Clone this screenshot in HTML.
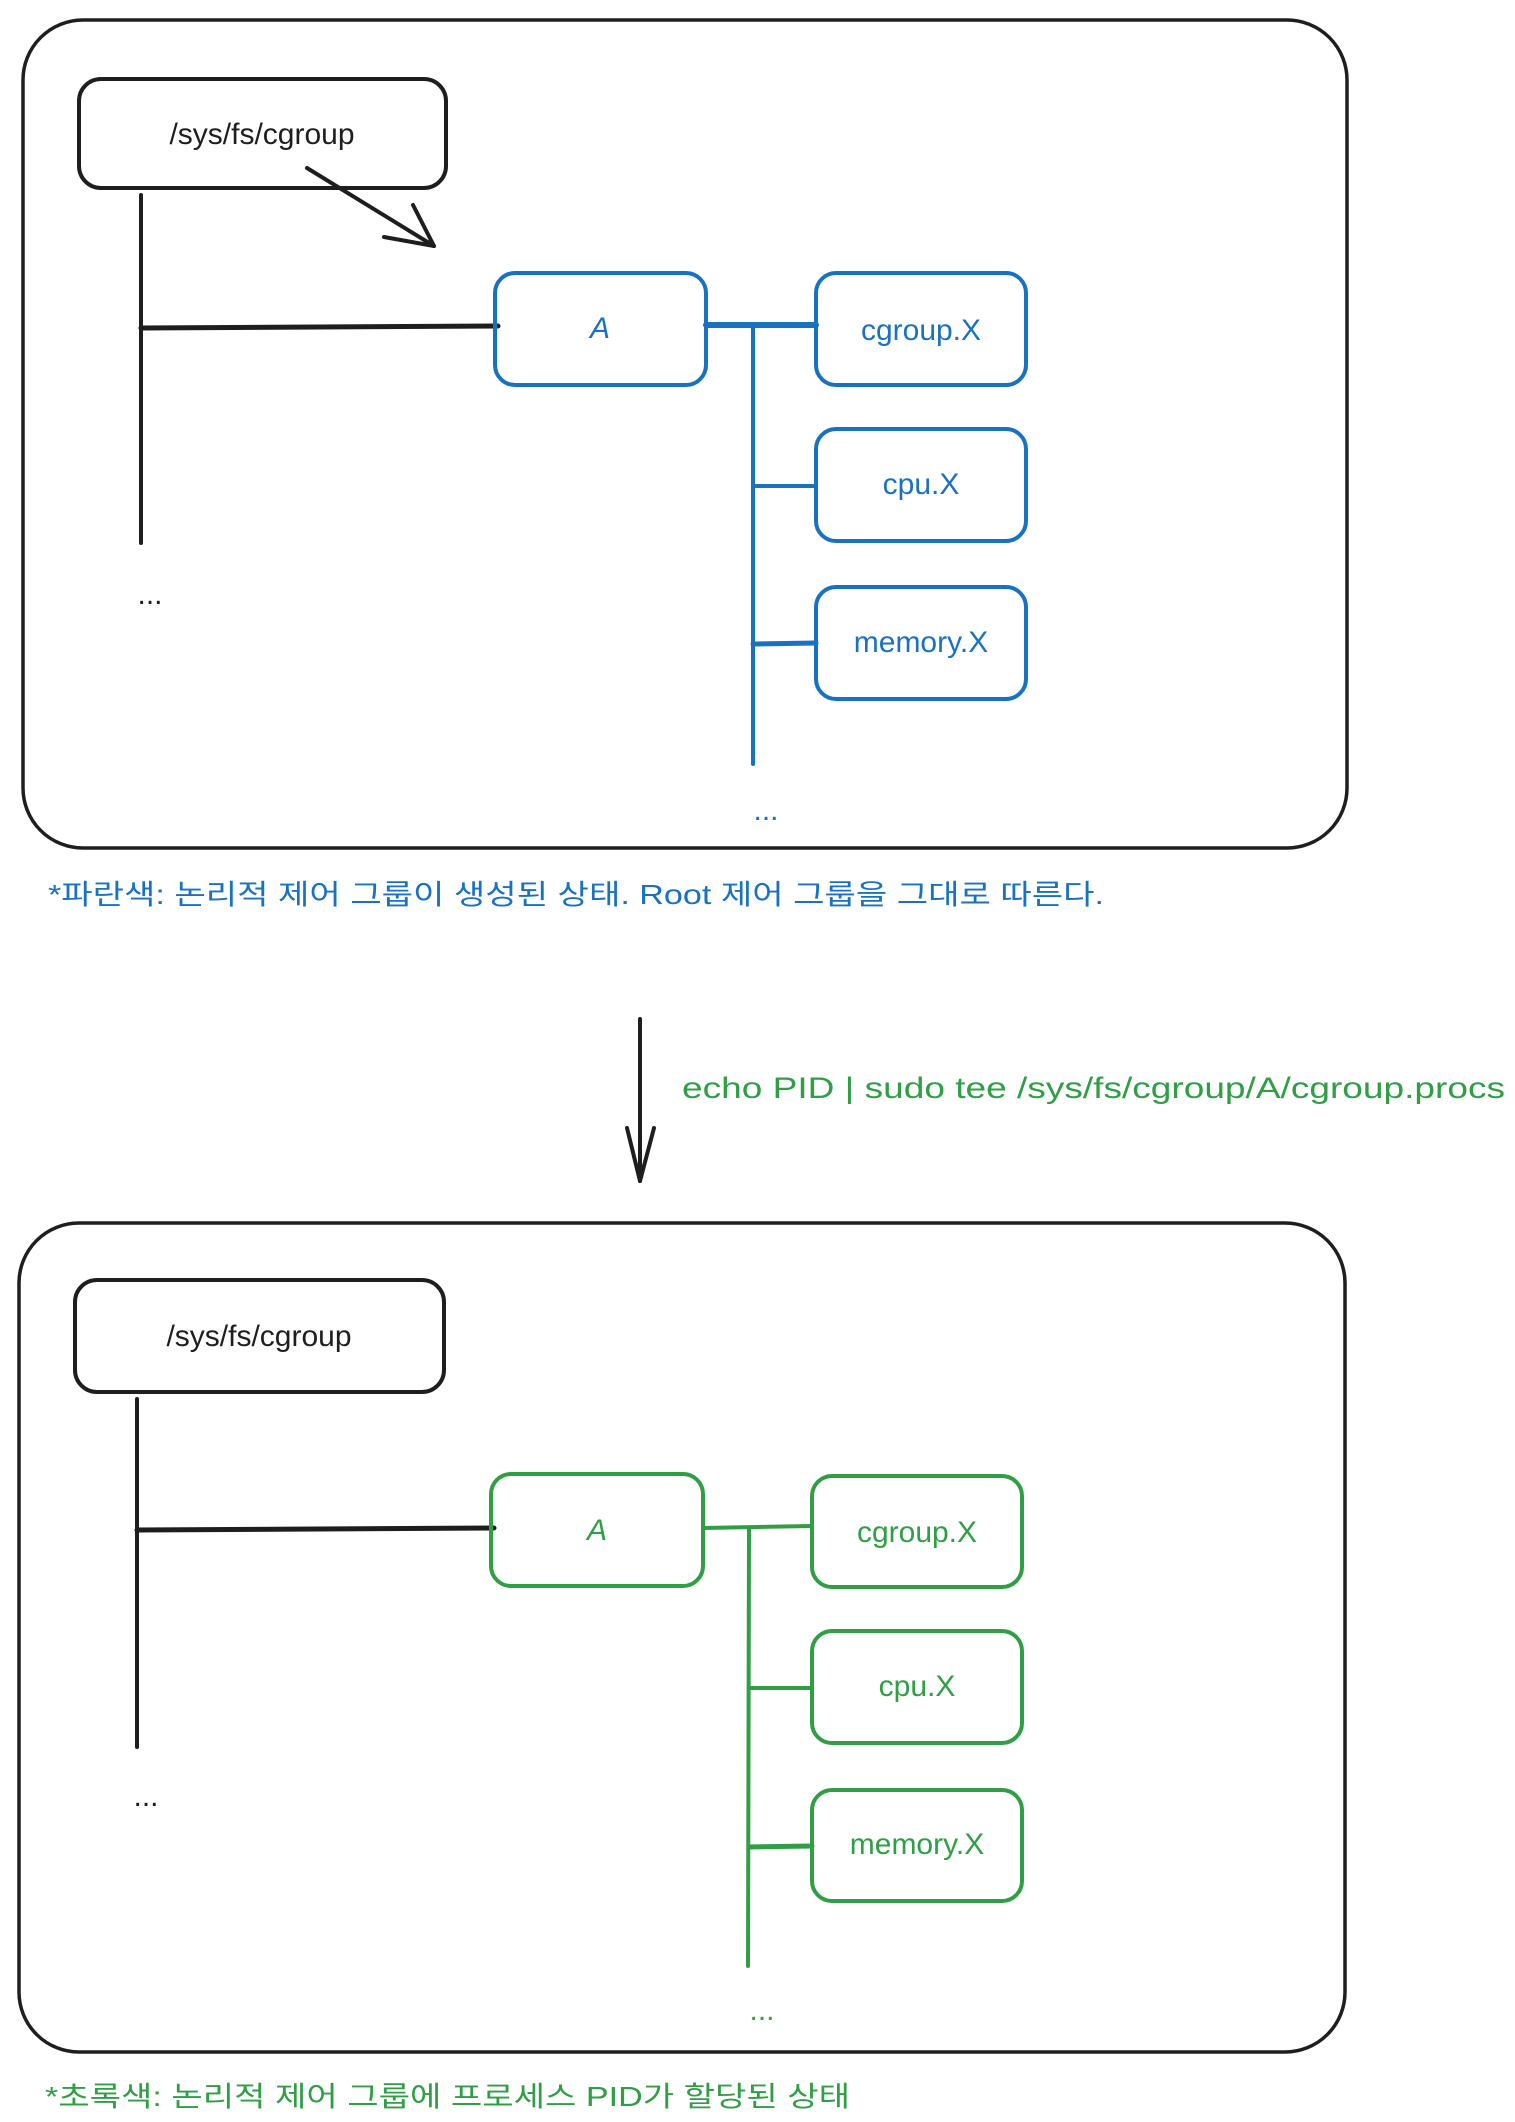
<!DOCTYPE html>
<html><head><meta charset="utf-8"><style>
html,body{margin:0;padding:0;background:#fff;}
svg{display:block}
text{font-family:"Liberation Sans","Noto Sans CJK KR",sans-serif;}
</style></head><body>
<svg width="1515" height="2122" viewBox="0 0 1515 2122" xmlns="http://www.w3.org/2000/svg">
<g fill="none" stroke-linecap="round" stroke-linejoin="round">
<!-- Top diagram -->
<rect x="23" y="20" width="1324" height="828" rx="60" stroke="#1e1e1e" stroke-width="3.5"/>
<rect x="79" y="79" width="367" height="109" rx="22" stroke="#1e1e1e" stroke-width="4"/>
<line x1="141" y1="195" x2="141" y2="543" stroke="#1e1e1e" stroke-width="4"/>
<line x1="141" y1="328" x2="498" y2="326" stroke="#1e1e1e" stroke-width="5"/>
<line x1="307" y1="168" x2="434" y2="246" stroke="#1e1e1e" stroke-width="4"/>
<path d="M384 237 L434 246 L413 205" stroke="#1e1e1e" stroke-width="4"/>
<rect x="495" y="273" width="211" height="112" rx="20" stroke="#1971c2" stroke-width="4"/>
<line x1="706" y1="325" x2="816" y2="325" stroke="#1971c2" stroke-width="6"/>
<line x1="753" y1="325" x2="753" y2="764" stroke="#1971c2" stroke-width="4"/>
<line x1="753" y1="486" x2="816" y2="486" stroke="#1971c2" stroke-width="4"/>
<line x1="753" y1="644" x2="816" y2="643" stroke="#1971c2" stroke-width="5"/>
<rect x="816" y="273" width="210" height="112" rx="20" stroke="#1971c2" stroke-width="4"/>
<rect x="816" y="429" width="210" height="112" rx="20" stroke="#1971c2" stroke-width="4"/>
<rect x="816" y="587" width="210" height="112" rx="20" stroke="#1971c2" stroke-width="4"/>
<!-- middle arrow -->
<line x1="640" y1="1019" x2="640" y2="1181" stroke="#1e1e1e" stroke-width="4"/>
<path d="M627 1128 L640 1181 L654 1128" stroke="#1e1e1e" stroke-width="4"/>
<!-- Bottom diagram -->
<rect x="19" y="1223" width="1326" height="829" rx="60" stroke="#1e1e1e" stroke-width="3.5"/>
<rect x="75" y="1280" width="369" height="112" rx="22" stroke="#1e1e1e" stroke-width="4"/>
<line x1="137" y1="1399" x2="137" y2="1747" stroke="#1e1e1e" stroke-width="4"/>
<line x1="137" y1="1530" x2="494" y2="1528" stroke="#1e1e1e" stroke-width="5"/>
<rect x="491" y="1474" width="212" height="112" rx="20" stroke="#2f9e44" stroke-width="4"/>
<line x1="703" y1="1528" x2="812" y2="1526" stroke="#2f9e44" stroke-width="4"/>
<line x1="749" y1="1528" x2="748" y2="1966" stroke="#2f9e44" stroke-width="4"/>
<line x1="749" y1="1688" x2="812" y2="1688" stroke="#2f9e44" stroke-width="4"/>
<line x1="749" y1="1847" x2="812" y2="1846" stroke="#2f9e44" stroke-width="5"/>
<rect x="812" y="1476" width="210" height="111" rx="20" stroke="#2f9e44" stroke-width="4"/>
<rect x="812" y="1631" width="210" height="112" rx="20" stroke="#2f9e44" stroke-width="4"/>
<rect x="812" y="1790" width="210" height="111" rx="20" stroke="#2f9e44" stroke-width="4"/>
</g>
<g font-size="30" text-anchor="middle">
<text x="262" y="144" fill="#1e1e1e">/sys/fs/cgroup</text>
<text x="600" y="338" fill="#1971c2" font-style="italic">A</text>
<text x="921" y="340" fill="#1971c2">cgroup.X</text>
<text x="921" y="494" fill="#1971c2">cpu.X</text>
<text x="921" y="652" fill="#1971c2">memory.X</text>
<text x="150" y="604" fill="#1e1e1e">...</text>
<text x="766" y="820" fill="#1971c2">...</text>
<text x="259" y="1346" fill="#1e1e1e">/sys/fs/cgroup</text>
<text x="597" y="1540" fill="#2f9e44" font-style="italic">A</text>
<text x="917" y="1542" fill="#2f9e44">cgroup.X</text>
<text x="917" y="1696" fill="#2f9e44">cpu.X</text>
<text x="917" y="1854" fill="#2f9e44">memory.X</text>
<text x="146" y="1806" fill="#1e1e1e">...</text>
<text x="762" y="2020" fill="#2f9e44">...</text>
</g>
<text x="48" y="904" font-size="28" fill="#1971c2" textLength="1056" lengthAdjust="spacingAndGlyphs">*파란색: 논리적 제어 그룹이 생성된 상태. Root 제어 그룹을 그대로 따른다.</text>
<text x="682" y="1098" font-size="30" fill="#2f9e44" textLength="823" lengthAdjust="spacingAndGlyphs">echo PID | sudo tee /sys/fs/cgroup/A/cgroup.procs</text>
<text x="45" y="2106" font-size="28" fill="#2f9e44" textLength="805" lengthAdjust="spacingAndGlyphs">*초록색: 논리적 제어 그룹에 프로세스 PID가 할당된 상태</text>
</svg>
</body></html>
